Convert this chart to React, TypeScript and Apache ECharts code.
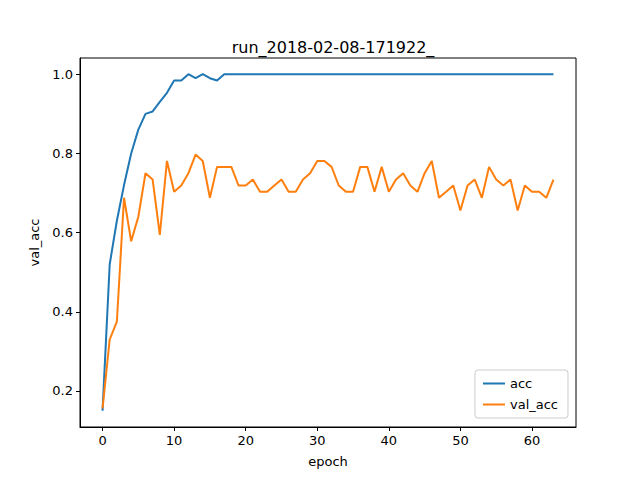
import * as echarts from "echarts";
import { useEffect, useRef } from "react";

const epochs = Array.from({ length: 64 }, (_, i) => i);
const acc = [
  0.15, 0.52, 0.63, 0.72, 0.8, 0.86, 0.9, 0.906, 0.93, 0.953, 0.984, 0.984, 1.0, 0.99, 1.0, 0.99,
  0.984, 1, 1, 1, 1, 1, 1, 1, 1, 1, 1, 1, 1, 1, 1, 1, 1, 1, 1, 1, 1, 1, 1, 1, 1, 1, 1, 1, 1, 1,
  1, 1, 1, 1, 1, 1, 1, 1, 1, 1, 1, 1, 1, 1, 1, 1, 1, 1,
];
const valAcc = [
  0.156, 0.33, 0.375, 0.688, 0.578, 0.64, 0.75, 0.734, 0.594, 0.781, 0.703, 0.719, 0.75, 0.797,
  0.781, 0.688, 0.766, 0.766, 0.766, 0.719, 0.719, 0.734, 0.703, 0.703, 0.719, 0.734, 0.703,
  0.703, 0.734, 0.75, 0.781, 0.781, 0.766, 0.719, 0.703, 0.703, 0.766, 0.766, 0.703, 0.766,
  0.703, 0.734, 0.75, 0.719, 0.703, 0.75, 0.781, 0.688, 0.703, 0.719, 0.656, 0.719, 0.734,
  0.688, 0.766, 0.734, 0.719, 0.734, 0.656, 0.719, 0.703, 0.703, 0.688, 0.734,
];
const xTicks = [0, 10, 20, 30, 40, 50, 60];
const yTicks = [0.2, 0.4, 0.6, 0.8, 1.0];

const font = "DejaVu Sans";

export default function App() {
  const ref = useRef<HTMLDivElement | null>(null);

  useEffect(() => {
    if (!ref.current) return;
    const chart = echarts.init(ref.current, undefined, { renderer: "svg" });
    const axisCommon = {
      axisLine: { show: true, onZero: false, lineStyle: { color: "#000", width: 1 } },
      axisTick: { show: true, inside: false, length: 4, lineStyle: { color: "#000" } },
      splitLine: { show: false },
      nameTextStyle: { fontFamily: font, fontSize: 13, color: "#000" },
    };
    chart.setOption({
      animation: false,
      backgroundColor: "#fff",
      title: {
        text: "run_2018-02-08-171922_",
        left: 328,
        top: 34,
        textAlign: "center",
        textStyle: { fontFamily: font, fontSize: 16, fontWeight: "normal", color: "#000" },
      },
      grid: { left: 80, right: 64, top: 58, bottom: 53, show: true, borderColor: "#000", borderWidth: 1 },
      legend: {
        orient: "vertical",
        right: 72,
        bottom: 62,
        itemWidth: 22,
        itemHeight: 2,
        itemGap: 8,
        padding: [7, 10, 7, 8],
        borderColor: "#ccc",
        borderWidth: 1,
        borderRadius: 3,
        icon: "rect",
        textStyle: { fontFamily: font, fontSize: 13, color: "#000" },
        data: ["acc", "val_acc"],
      },
      xAxis: {
        ...axisCommon,
        type: "value",
        min: -3.15,
        max: 66.15,
        name: "epoch",
        nameLocation: "middle",
        nameGap: 28,
        axisTick: { ...axisCommon.axisTick, customValues: xTicks },
        axisLabel: { customValues: xTicks, fontFamily: font, fontSize: 13, color: "#000", margin: 7 },
      },
      yAxis: {
        ...axisCommon,
        type: "value",
        min: 0.109,
        max: 1.041,
        name: "val_acc",
        nameLocation: "middle",
        nameGap: 38,
        axisTick: { ...axisCommon.axisTick, customValues: yTicks },
        axisLabel: {
          customValues: yTicks,
          formatter: (v: number) => v.toFixed(1),
          fontFamily: font,
          fontSize: 13,
          color: "#000",
          margin: 7,
        },
      },
      series: [
        {
          name: "acc",
          type: "line",
          showSymbol: false,
          data: epochs.map((e, i) => [e, acc[i]]),
          lineStyle: { color: "#1f77b4", width: 2 },
          itemStyle: { color: "#1f77b4" },
        },
        {
          name: "val_acc",
          type: "line",
          showSymbol: false,
          data: epochs.map((e, i) => [e, valAcc[i]]),
          lineStyle: { color: "#ff7f0e", width: 2 },
          itemStyle: { color: "#ff7f0e" },
        },
      ],
    });
    return () => chart.dispose();
  }, []);

  return <div ref={ref} style={{ width: 640, height: 480, margin: -8 }} />;
}
